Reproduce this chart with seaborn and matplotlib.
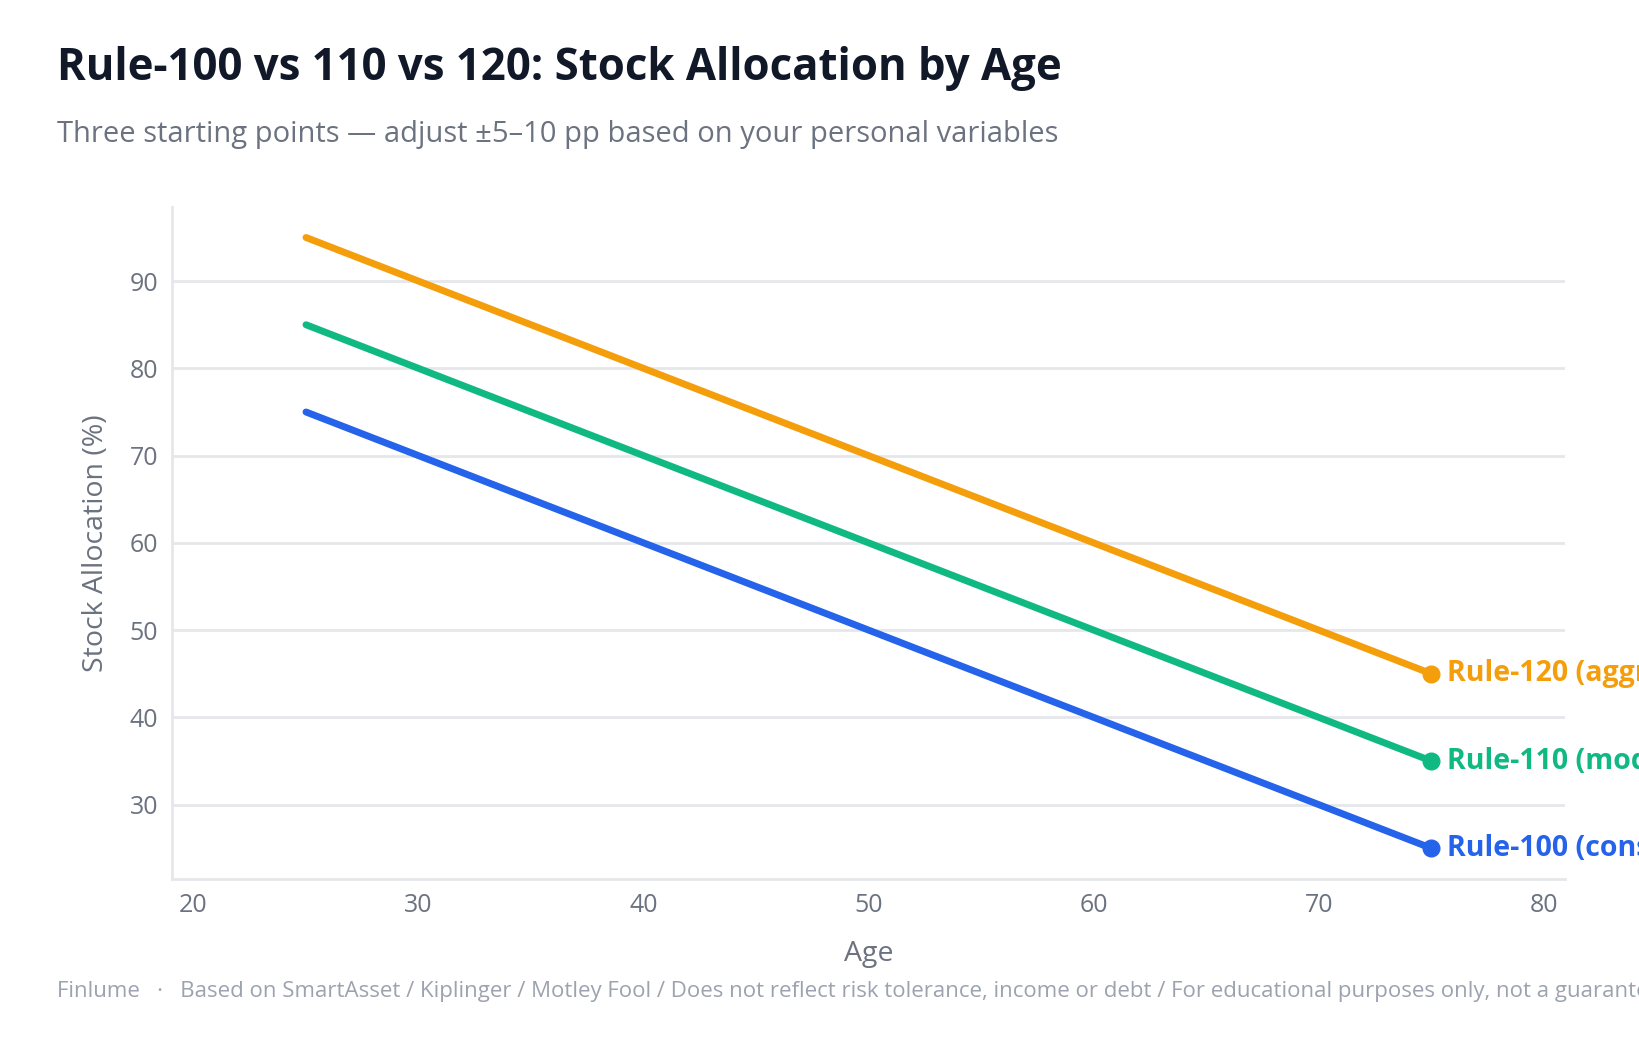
"""
Rule-100 vs 110 vs 120 stock allocation chart.
"""
import pandas as pd
import seaborn as sns
import matplotlib.pyplot as plt

# data
ages = [25, 75]
rule_100 = [75, 25]
rule_110 = [85, 35]
rule_120 = [95, 45]
series_names = ["Rule-100 (conservative)", "Rule-110 (moderate)", "Rule-120 (aggressive)"]
colors = ["#2563eb", "#10b981", "#f59e0b"]
y_ticks = [30, 40, 50, 60, 70, 80, 90]
x_ticks = [20, 30, 40, 50, 60, 70, 80]

TITLE = "Rule-100 vs 110 vs 120: Stock Allocation by Age"
SUBTITLE = "Three starting points \u2014 adjust \u00b15\u201310 pp based on your personal variables"
FOOTER = ("Finlume   \u00b7   Based on SmartAsset / Kiplinger / Motley Fool / Does not reflect risk "
          "tolerance, income or debt / For educational purposes only, not a guarantee of results")


def build_frame() -> pd.DataFrame:
    frames = []
    for name, vals in zip(series_names, [rule_100, rule_110, rule_120]):
        frames.append(pd.DataFrame({"age": ages, "alloc": vals, "rule": name}))
    return pd.concat(frames, ignore_index=True)


def main():
    data = build_frame()

    sns.set_style("white")
    plt.rcParams["font.family"] = ["Open Sans", "DejaVu Sans"]

    fig = plt.figure(figsize=(16.39, 10.4), dpi=100)
    ax = fig.add_axes([0.105, 0.155, 0.85, 0.646])

    palette = dict(zip(series_names, colors))
    sns.lineplot(data=data, x="age", y="alloc", hue="rule", palette=palette,
                 linewidth=5, legend=False, ax=ax, solid_capstyle="round")

    # end markers + labels
    for name, vals, c in zip(series_names, [rule_100, rule_110, rule_120], colors):
        ax.plot(ages[-1], vals[-1], "o", color=c, markersize=12, zorder=5, clip_on=False)
        ax.annotate(name, (ages[-1], vals[-1]), xytext=(11, 0), textcoords="offset points",
                    color=c, fontsize=20.5, fontweight="bold", va="center", ha="left",
                    annotation_clip=False)

    ax.set_xlim(19.05, 80.95)
    ax.set_ylim(21.5, 98.5)
    ax.set_xticks(x_ticks)
    ax.set_yticks(y_ticks)
    ax.tick_params(axis="both", labelsize=18, labelcolor="#6b7280", length=0, pad=10)
    ax.grid(axis="y", color="#e5e7eb", linewidth=2)
    ax.set_axisbelow(True)
    for side in ["top", "right"]:
        ax.spines[side].set_visible(False)
    for side in ["left", "bottom"]:
        ax.spines[side].set_color("#e5e7eb")
        ax.spines[side].set_linewidth(2)

    ax.set_xlabel("Age", fontsize=20.5, color="#6b7280", labelpad=16)
    ax.set_ylabel("Stock Allocation (%)", fontsize=20.5, color="#6b7280", labelpad=14)

    fig.text(0.035, 1 - 80 / 1040, TITLE, fontsize=31.5, fontweight="bold",
             color="#111827", va="baseline", ha="left")
    fig.text(0.035, 1 - 142 / 1040, SUBTITLE, fontsize=21, color="#6b7280",
             va="baseline", ha="left")
    fig.text(0.035, 1 - 997 / 1040, FOOTER, fontsize=16, color="#9ca3af",
             va="baseline", ha="left")

    fig.savefig("out.png", dpi=100, facecolor="white")


if __name__ == "__main__":
    main()
